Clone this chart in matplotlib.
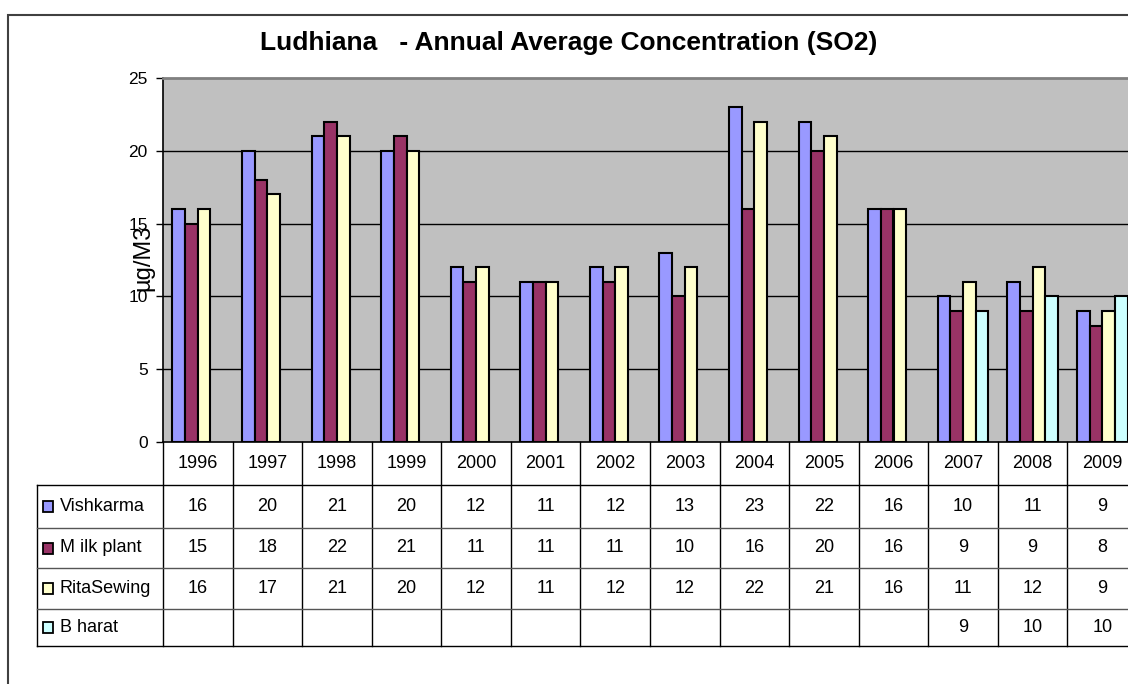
import numpy as np
import matplotlib
matplotlib.use("Agg")
import matplotlib.pyplot as plt
from matplotlib.patches import Rectangle

plt.rcParams["font.family"] = ["Liberation Sans", "DejaVu Sans"]

# data
years = ["1996", "1997", "1998", "1999", "2000", "2001", "2002",
         "2003", "2004", "2005", "2006", "2007", "2008", "2009"]
series_names = ["Vishkarma", "M ilk plant", "RitaSewing", "B harat"]
vishkarma = [16, 20, 21, 20, 12, 11, 12, 13, 23, 22, 16, 10, 11, 9]
milk_plant = [15, 18, 22, 21, 11, 11, 11, 10, 16, 20, 16, 9, 9, 8]
rita_sewing = [16, 17, 21, 20, 12, 11, 12, 12, 22, 21, 16, 11, 12, 9]
bharat = [None] * 11 + [9, 10, 10]
colors = ["#9999FF", "#993366", "#FFFFCC", "#CCFFFF"]

series = [vishkarma, milk_plant, rita_sewing, bharat]

W, H = 1128, 684
fig = plt.figure(figsize=(W / 100, H / 100), dpi=100)

# plot area placement in pixels (right edge runs past the picture, as in the original)
left_px, right_px, top_px, bot_px = 163, 1137, 78, 442
tab_bot_px = 646
ax = fig.add_axes([left_px / W, 1 - bot_px / H, (right_px - left_px) / W, (bot_px - top_px) / H])
tab = fig.add_axes([left_px / W, 1 - tab_bot_px / H, (right_px - left_px) / W, (tab_bot_px - bot_px) / H])

n = len(years)
x = np.arange(n)
bw = 1 / 5.5
ax.set_facecolor("#C0C0C0")
for i, (vals, c) in enumerate(zip(series, colors)):
    xs = [xi + (i - 1.5) * bw for xi, v in zip(x, vals) if v is not None]
    hs = [v for v in vals if v is not None]
    ax.bar(xs, hs, width=bw, color=c, edgecolor="black", linewidth=1.5, zorder=3)

ax.set_xlim(-0.5, n - 0.5)
ax.set_ylim(0, 25)
ax.set_yticks(range(0, 26, 5))
ax.set_yticklabels([str(t) for t in range(0, 26, 5)], fontsize=12.5)
ax.tick_params(axis="y", direction="out", length=5, width=1, pad=6)
ax.set_xticks([])
for yv in range(5, 25, 5):
    ax.axhline(yv, color="black", lw=1, zorder=1)
ax.spines["top"].set_color("#808080")
ax.spines["top"].set_linewidth(2)
ax.spines["left"].set_linewidth(1.2)
ax.spines["bottom"].set_linewidth(1.2)
ax.spines["right"].set_visible(False)

# data table underneath
px_per_cat = (right_px - left_px) / n
def px_to_x(px):
    return -0.5 + (px - left_px) / px_per_cat

row_edges = [0, 43, 86, 126, 167, 204]
tab.set_xlim(-0.5, n - 0.5)
tab.set_ylim(row_edges[-1], 0)
tab.axis("off")

lab_left = px_to_x(37)
for k in range(n + 1):
    tab.plot([k - 0.5, k - 0.5], [0, row_edges[-1]], color="black", lw=1, clip_on=False)
tab.plot([lab_left, lab_left], [row_edges[1], row_edges[-1]], color="black", lw=1, clip_on=False)
for j, ye in enumerate(row_edges[1:]):
    col = "black" if j in (0, len(row_edges) - 2) else "#555555"
    tab.plot([lab_left, n - 0.5], [ye, ye], color=col, lw=1, clip_on=False)

hdr_mid = (row_edges[0] + row_edges[1]) / 2
for xi, yr in zip(x, years):
    tab.text(xi, hdr_mid, yr, ha="center", va="center", fontsize=13)

for r, (name, vals, c) in enumerate(zip(series_names, series, colors)):
    ymid = (row_edges[r + 1] + row_edges[r + 2]) / 2
    kx = px_to_x(43)
    tab.add_patch(Rectangle((kx, ymid - 5.5), 10 / px_per_cat, 11, facecolor=c,
                            edgecolor="black", lw=1.3, clip_on=False))
    tab.text(px_to_x(60), ymid, name, ha="left", va="center", fontsize=13, clip_on=False)
    for xi, v in zip(x, vals):
        if v is not None:
            tab.text(xi, ymid, str(v), ha="center", va="center", fontsize=13)

fig.text(569 / W, 1 - 43 / H, "Ludhiana   - Annual Average Concentration (SO2)",
         ha="center", va="center", fontsize=19, fontweight="bold")
fig.text(143 / W, 1 - 258 / H, "µg/M3", rotation=90, ha="center", va="center", fontsize=17)

# chart border
fig.patches.append(Rectangle((8 / W, -0.1), 1.2, 1 - 15 / H + 0.1, transform=fig.transFigure,
                             facecolor="none", edgecolor="#404040", lw=1.5))

fig.savefig("out.png", dpi=100)
